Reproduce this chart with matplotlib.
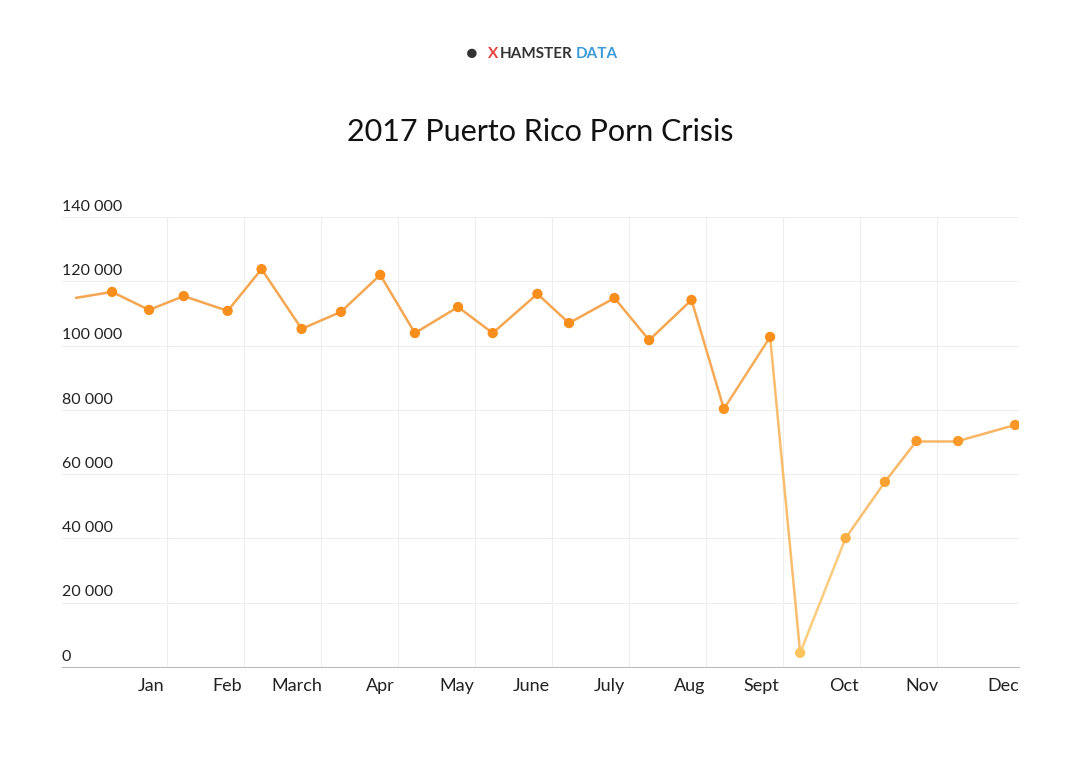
import numpy as np
import matplotlib.pyplot as plt
from matplotlib.collections import LineCollection
from matplotlib.colors import LinearSegmentedColormap

# x position in months (gridlines at month boundaries), y = views
x_pos = [-0.19, 0.29, 0.77, 1.22, 1.79, 2.23, 2.75, 3.26, 3.77, 4.22, 4.78, 5.23, 5.81, 6.22, 6.81, 7.26, 7.81, 8.23, 8.83, 9.22, 9.81, 10.32, 10.73, 11.27, 12.01]
views = [114800, 116700, 111100, 115400, 110800, 123800, 105200, 110500, 122000, 103900,
         112000, 103900, 116100, 107000, 114800, 101700, 114200, 80300, 102700, 4400,
         40100, 57600, 70300, 70300, 75300]
months = ["Jan", "Feb", "March", "Apr", "May", "June", "July", "Aug", "Sept", "Oct", "Nov", "Dec"]
month_label_pos = [0.8, 1.79, 2.69, 3.77, 4.77, 5.73, 6.74, 7.78, 8.71, 9.79, 10.8, 11.86]
y_ticks = [0, 20000, 40000, 60000, 80000, 100000, 120000, 140000]

plt.rcParams["font.family"] = "Lato"
fig = plt.figure(figsize=(10.8, 7.57), dpi=100)
ax = fig.add_axes([0.0574, 0.1189, 0.8861, 0.5944])

line_cmap = LinearSegmentedColormap.from_list("l", ["#fdd58a", "#f5a650"])
dot_cmap = LinearSegmentedColormap.from_list("d", ["#fcc760", "#f88e1c"])

pts = np.column_stack([x_pos, views])
segs = np.stack([pts[:-1], pts[1:]], axis=1)
mid = (np.array(views[:-1]) + np.array(views[1:])) / 2 / 140000
lc = LineCollection(segs, colors=line_cmap(np.clip(mid * 1.3, 0, 1)), linewidth=1.8, zorder=3)
ax.add_collection(lc)
dv = np.array(views[1:]) / 140000
ax.scatter(x_pos[1:], views[1:], s=55, c=dot_cmap(np.clip(dv * 1.6, 0, 1)), zorder=4, linewidths=0)

ax.set_xlim(-0.36, 12.06)
ax.set_ylim(0, 140000)
for m in range(1, 12):
    ax.axvline(m, color="#eeeeee", lw=0.8, zorder=1)
for t in y_ticks[1:]:
    ax.axhline(t, color="#eeeeee", lw=0.8, zorder=1)
    ax.text(0, t + 1000, f"{t:,}".replace(",", " "), transform=ax.get_yaxis_transform(),
            fontsize=11.5, color="#222222", va="bottom")
ax.text(0, 1000, "0", transform=ax.get_yaxis_transform(), fontsize=11.5, color="#222222", va="bottom")

ax.set_yticks([])
ax.set_xticks(month_label_pos)
ax.set_xticklabels(months, fontsize=13, color="#222222")
ax.tick_params(axis="x", length=0, pad=8)
for s in ["top", "right", "left"]:
    ax.spines[s].set_visible(False)
ax.spines["bottom"].set_color("#bbbbbb")

fig.text(0.5, 0.826, "2017 Puerto Rico Porn Crisis", ha="center", va="center", fontsize=22, color="#111111")
fig.text(0.452, 0.929, "X", ha="left", va="center", fontsize=11, color="#e8403a", weight="bold")
fig.text(0.463, 0.929, "HAMSTER", ha="left", va="center", fontsize=11, color="#333333", weight="bold")
fig.text(0.533, 0.929, "DATA", ha="left", va="center", fontsize=11, color="#3a9ad9", weight="bold")
fig.text(0.437, 0.929, "\u25cf", ha="center", va="center", fontsize=14, color="#333333")

fig.savefig("out.png", dpi=100, facecolor="white")
